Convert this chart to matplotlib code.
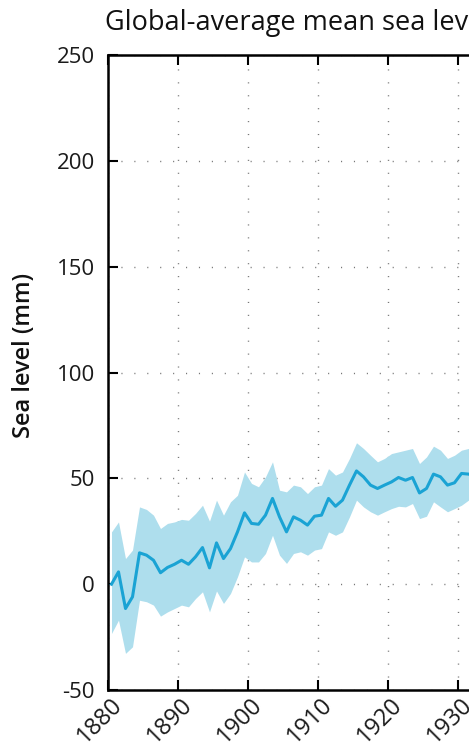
import matplotlib
matplotlib.use("Agg")
import matplotlib.pyplot as plt
from matplotlib.transforms import ScaledTranslation

plt.rcParams['font.family'] = ['Open Sans', 'DejaVu Sans']

title = "Global-average mean sea level change"
ylabel = "Sea level (mm)"

years = [1880.5 + i for i in range(53)]
sea_level = [0, 5.8, -11.5, -6, 14.8, 13.7, 11.3, 5.4, 7.9, 9.4,
             11.3, 9.4, 12.9, 17.3, 7.7, 19.5, 12.1, 16.8, 24.7, 33.7,
             28.7, 28.3, 32.6, 40.5, 31.8, 24.7, 31.8, 30.2, 27.9, 32.1,
             32.6, 40.5, 36.8, 39.7, 46.8, 53.5, 50.7, 46.8, 45.2, 46.8,
             48.3, 50.4, 49.1, 50.4, 43.1, 45.2, 52.0, 50.7, 46.8, 47.9,
             52.3, 52.0, 51.0]
upper = [24.7, 29.4, 12.1, 16.1, 36.5, 35.3, 32.6, 26.3, 28.7, 29.4,
         30.6, 30.2, 33.4, 37.3, 29.8, 39.7, 32.6, 38.9, 42.0, 53.0,
         47.6, 46.0, 50.7, 57.8, 44.4, 43.6, 46.8, 46.0, 42.8, 46.0,
         46.8, 54.6, 51.5, 53.0, 59.4, 66.8, 64.1, 60.9, 57.8, 59.4,
         61.7, 62.5, 63.3, 64.1, 57.0, 60.1, 65.2, 63.3, 59.4, 60.9,
         63.3, 64.1, 63.0]
lower = [-23.3, -17.0, -32.7, -29.6, -7.6, -8.3, -9.9, -15.1, -13.1, -11.5,
         -9.9, -10.7, -6.8, -3.6, -13.1, -3.2, -9.1, -4.4, 3.5, 12.9,
         10.5, 10.5, 14.5, 23.1, 13.7, 9.8, 14.5, 15.3, 13.7, 16.1,
         16.8, 24.7, 23.1, 24.7, 31.8, 39.7, 36.5, 34.2, 32.6, 34.2,
         35.7, 36.8, 36.5, 38.1, 31.0, 32.1, 38.9, 36.5, 34.2, 35.7,
         37.3, 39.7, 39.0]

xticks = list(range(1880, 2030, 10))
xtick_labels = [str(t) if t <= 1930 else "" for t in xticks]
yticks = list(range(-50, 300, 50))

W, H = 469, 751
fig = plt.figure(figsize=(W/100, H/100), dpi=100)
left_px, top_px, bottom_px = 108, 55, 690
px_per_year = 7.0
x0, x1 = 1880, 2020
ax_w_px = (x1-x0)*px_per_year
ax = fig.add_axes([left_px/W, 1-bottom_px/H, ax_w_px/W, (bottom_px-top_px)/H])

ax.fill_between(years, lower, upper, color='#aedeed', linewidth=0, zorder=2)
ax.plot(years, sea_level, color='#1aa3d4', linewidth=2.2, zorder=3)

ax.set_xlim(x0, x1)
ax.set_ylim(-50, 250)
ax.set_xticks(xticks)
ax.set_yticks(yticks)
ax.set_xticklabels(xtick_labels, rotation=45, ha='right', va='center',
                   rotation_mode='anchor', fontsize=17, color='#1a1a1a')
ax.set_yticklabels([str(t) for t in yticks], fontsize=16, color='#1a1a1a')
ax.tick_params(direction='in', length=7, width=1.5, top=True, right=True)
ax.tick_params(axis='y', pad=9.5)
ax.tick_params(axis='x', pad=8)
off = ScaledTranslation(11/100, 0, fig.dpi_scale_trans)
for lab in ax.get_xticklabels():
    lab.set_transform(lab.get_transform() + off)
for s in ax.spines.values():
    s.set_linewidth(1.8)
    s.set_color('black')
ax.grid(True, color='#777777', linestyle=(0, (0.8, 8.5)), linewidth=1.0, zorder=1)
ax.set_axisbelow(True)
ax.set_ylabel(ylabel, fontsize=17, fontweight='semibold', color='#111111')
ax.yaxis.set_label_coords((36-left_px)/ax_w_px, (bottom_px-355)/(bottom_px-top_px))

fig.text(105/W, 1-23/H, title, fontsize=19.5, ha='left', va='center', color='#111111')

fig.savefig('out.png', dpi=100)
